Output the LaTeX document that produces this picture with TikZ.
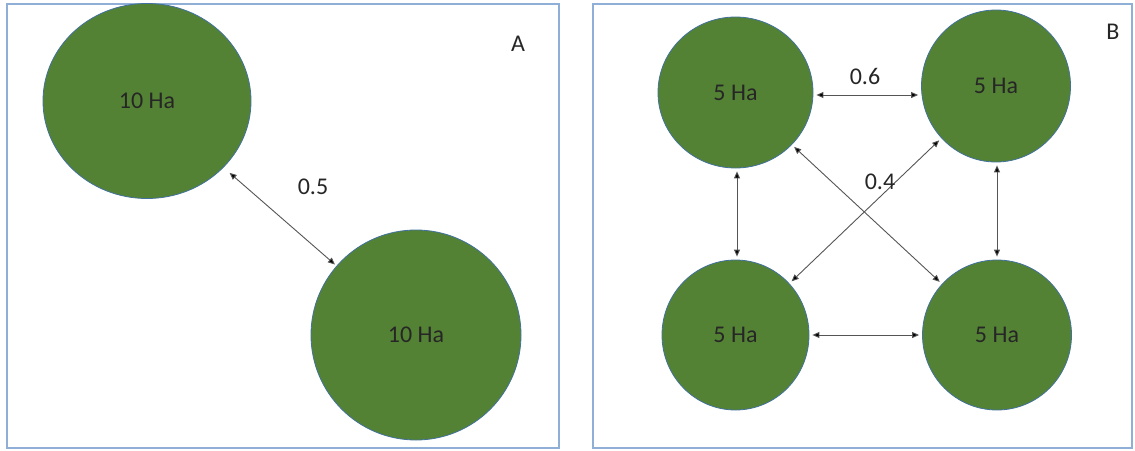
\documentclass[tikz,border=0pt]{standalone}
\usepackage{fontspec}
\setmainfont{Carlito}
\usetikzlibrary{shapes.geometric,arrows.meta}
\definecolor{fieldgreen}{HTML}{548235}
\definecolor{fieldedge}{HTML}{41719C}
\definecolor{panelblue}{HTML}{8FAFD6}
\definecolor{linkgray}{HTML}{555555}
\tikzset{
  panel/.style={draw=panelblue, line width=1.6pt},
  field/.style={ellipse, draw=fieldedge, line width=0.8pt, fill=fieldgreen,
    inner sep=0pt, font=\fontsize{24}{28}\selectfont, text=black!85},
  link/.style={draw=linkgray, line width=0.9pt,
    {Triangle[length=7pt,width=6pt,fill=black]}-{Triangle[length=7pt,width=6pt,fill=black]},
    shorten <=3pt, shorten >=3pt},
  tag/.style={font=\fontsize{24}{28}\selectfont, text=black!85, inner sep=0pt}
}
\begin{document}
\begin{tikzpicture}[x=1pt,y=-1pt]
  \useasboundingbox (0,0) rectangle (1135,450);
  % frames
  \draw[panel] (7,4) rectangle (559,448);
  \draw[panel] (593,4) rectangle (1132,448);
  \node[tag] (labA) at (518,44) {A};
  \node[tag] (labB) at (1113,32) {B};

  % single-patch layout
  \node[field, minimum width=208pt, minimum height=195pt] (a1) at (147,101) {10 Ha};
  \node[field, minimum width=210pt, minimum height=210pt] (a2) at (416,335) {10 Ha};
  \draw[link, shorten <=8pt, shorten >=2pt] (a1) -- (a2);
  \node[tag] (d05) at (313,187) {0.5};

  % four-patch layout
  \node[field, minimum width=155pt, minimum height=151pt] (b1) at (735.5,92.5) {5 Ha};
  \node[field, minimum width=149pt, minimum height=152pt] (b2) at (996,86) {5 Ha};
  \node[field, minimum width=147pt, minimum height=150pt] (b3) at (735.5,335) {5 Ha};
  \node[field, minimum width=149pt, minimum height=150pt] (b4) at (997,335) {5 Ha};

  \draw[link] (b1.east |- 0,95) -- (b2.west |- 0,95);
  \draw[link] (b3.east |- 0,335) -- (b4.west |- 0,335);
  \draw[link] (b1.south -| 737,0) -- (b3.north -| 737,0);
  \draw[link] (b2.south -| 997,0) -- (b4.north -| 997,0);
  \draw[link] (b1) -- (b4);
  \draw[link] (b2) -- (b3);
  \node[tag] (d06) at (865,76) {0.6};
  \node[tag] (d04) at (880,182) {0.4};
\end{tikzpicture}
\end{document}
